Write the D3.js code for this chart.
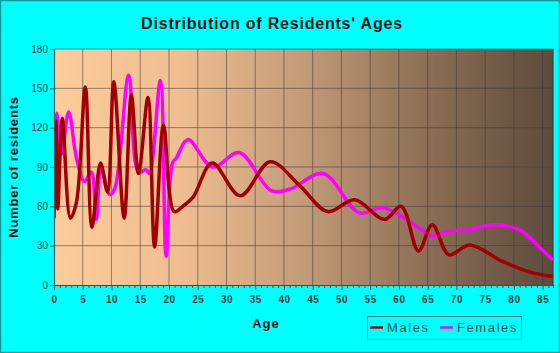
<!DOCTYPE html>
<html><head><meta charset="utf-8">
<script src="https://cdn.jsdelivr.net/npm/d3@7"></script>
<style>
html,body{margin:0;padding:0;background:#00FFFF;}
svg{display:block;}
text{font-family:"Liberation Sans",Arial,sans-serif;}
</style></head>
<body>
<svg id="chart" width="560" height="353"></svg>
<script>
// ---- data ----
const maleAges   = [0, 0.35, 0.65, 1.45, 2.85, 3.9, 5.45, 6.6, 8.1, 9.3, 10.4, 12.2, 13.45, 14.7, 16.35, 17.5, 19.05, 20.9, 22.4, 24.2, 27.5, 32.4, 37.6, 42.7, 47.6, 52.3, 57.5, 60.4, 63.4, 65.8, 68.7, 72.3, 78, 82.7, 86.8];
const maleValues = [51, 125, 58, 127, 51, 63, 151, 44, 93, 71, 155, 51, 145, 85, 143, 29, 122, 56, 60, 67, 93, 68, 94, 76, 56, 65, 50, 60, 26, 46, 23, 30.5, 18, 10, 6.5];
const femaleAges   = [0, 0.45, 1.3, 2.55, 3.9, 5.3, 6.5, 7.35, 8.2, 9.7, 10.6, 13.0, 14.7, 16.0, 16.6, 18.5, 19.5, 20.6, 21.3, 22.7, 23.5, 27.6, 32.2, 37.8, 41, 46.8, 53.1, 57.2, 64.4, 65.9, 68.2, 71.7, 76.6, 81, 84.4, 86.8];
const femaleValues = [105, 131, 100, 132, 97, 79, 86, 50, 89, 69, 74, 160, 86, 88, 85, 156, 22, 93, 97, 109, 111, 90, 101, 72, 73, 85, 55, 59, 41, 37.5, 41, 42, 46, 42, 29, 19];
const xTicks = [0,5,10,15,20,25,30,35,40,45,50,55,60,65,70,75,80,85];
const yTicks = [0,30,60,90,120,150,180];
const seriesNames = ["Males","Females"];
const seriesColors = ["#A00000","#FF00FF"];

const svg = d3.select("#chart");
const W = 560, H = 353;
const L = 54, R = 553, T = 49, B = 285;

// outer border
svg.append("rect").attr("x",0.5).attr("y",0.5).attr("width",W-1).attr("height",H-1)
  .attr("fill","#00FFFF").attr("stroke","#119C9C").attr("stroke-width",1.5);

const x = d3.scaleLinear().domain([0, 86.8]).range([L, R]);
const y = d3.scaleLinear().domain([0, 180]).range([B, T]);

// gradient background
const defs = svg.append("defs");
const g = defs.append("linearGradient").attr("id","bg").attr("x1","0").attr("x2","1").attr("y1","0").attr("y2","0");
[[0,"#FCCC9C"],[0.25,"#F0BE91"],[0.5,"#C29B78"],[0.75,"#8B6E54"],[1,"#5D4B3C"]].forEach(s=>
  g.append("stop").attr("offset",s[0]).attr("stop-color",s[1]));
const clip = defs.append("clipPath").attr("id","clip");
clip.append("rect").attr("x",L).attr("y",T).attr("width",R-L).attr("height",B-T);

svg.append("rect").attr("x",L).attr("y",T).attr("width",R-L).attr("height",B-T).attr("fill","url(#bg)");

// grid
const grid = svg.append("g");
grid.selectAll(".vg").data(xTicks.filter(d=>d>0)).join("line")
  .attr("x1",d=>x(d)).attr("x2",d=>x(d)).attr("y1",T).attr("y2",B)
  .attr("stroke","#3a3a3a").attr("stroke-opacity",0.55).attr("stroke-width",1);
grid.selectAll(".hg").data(yTicks.filter(d=>d>0)).join("line")
  .attr("x1",L).attr("x2",R).attr("y1",d=>y(d)).attr("y2",d=>y(d))
  .attr("stroke","#3a3a3a").attr("stroke-opacity",0.55).attr("stroke-width",1);
svg.append("line").attr("x1",R).attr("x2",R).attr("y1",T).attr("y2",B).attr("stroke","#333").attr("stroke-width",1);

// lines
const line = d3.line().x(d=>x(d[0])).y(d=>y(d[1])).curve(d3.curveCatmullRom.alpha(0.5));
const plot = svg.append("g").attr("clip-path","url(#clip)");
plot.append("path").datum(femaleAges.map((a,i)=>[a,femaleValues[i]]))
  .attr("d",line).attr("fill","none").attr("stroke",seriesColors[1]).attr("stroke-width",3.5).attr("stroke-linejoin","round");
plot.append("path").datum(maleAges.map((a,i)=>[a,maleValues[i]]))
  .attr("d",line).attr("fill","none").attr("stroke",seriesColors[0]).attr("stroke-width",3.5).attr("stroke-linejoin","round");

// axes
const yAxis = d3.axisLeft(y).tickValues(yTicks).tickSize(4).tickPadding(2);
const ya = svg.append("g").attr("transform",`translate(${L},0)`).call(yAxis);
const minor = d3.range(0, 87, 1);
const xAxis = d3.axisBottom(x).tickValues(minor).tickSize(3).tickFormat(d=>xTicks.includes(d)?d:"").tickPadding(8);
const xa = svg.append("g").attr("transform",`translate(0,${B})`).call(xAxis);
[ya,xa].forEach(a=>{
  a.select(".domain").attr("stroke","#1E5A5A").attr("stroke-width",1.2);
  a.selectAll(".tick line").attr("stroke","#1E5A5A");
  a.selectAll("text").attr("fill","#1a3a3a").style("font-size","10px").style("font-family","Liberation Sans, Arial, sans-serif");
});
xa.selectAll("text").style("font-weight","bold").style("letter-spacing","0.5px");
xa.selectAll(".tick").filter(d=>xTicks.includes(d)).select("line").attr("y2",5);

// title & axis labels
svg.append("text").attr("x",272).attr("y",29).attr("text-anchor","middle")
  .style("font-size","16px").style("font-weight","bold").style("letter-spacing","0.8px").attr("fill","#111")
  .text("Distribution of Residents' Ages");
svg.append("text").attr("transform","translate(18,167) rotate(-90)").attr("text-anchor","middle")
  .style("font-size","13px").style("font-weight","bold").style("letter-spacing","0.8px").attr("fill","#111")
  .text("Number of residents");
svg.append("text").attr("x",266).attr("y",328).attr("text-anchor","middle")
  .style("font-size","13px").style("font-weight","bold").style("letter-spacing","1px").attr("fill","#111")
  .text("Age");

// legend
const lg = svg.append("g");
lg.append("rect").attr("x",367.5).attr("y",316.5).attr("width",154).attr("height",23)
  .attr("fill","none").attr("stroke","#1E7C7C").attr("stroke-width",1);
const lx = [370, 440];
seriesNames.forEach((n,i)=>{
  lg.append("line").attr("x1",lx[i]).attr("x2",lx[i]+13).attr("y1",327.5).attr("y2",327.5)
    .attr("stroke",seriesColors[i]).attr("stroke-width",2.5);
  lg.append("text").attr("x",lx[i]+17).attr("y",332).style("font-size","13px")
    .style("letter-spacing","1.6px").attr("fill","#1a4a4a").text(n);
});
</script>
</body></html>
